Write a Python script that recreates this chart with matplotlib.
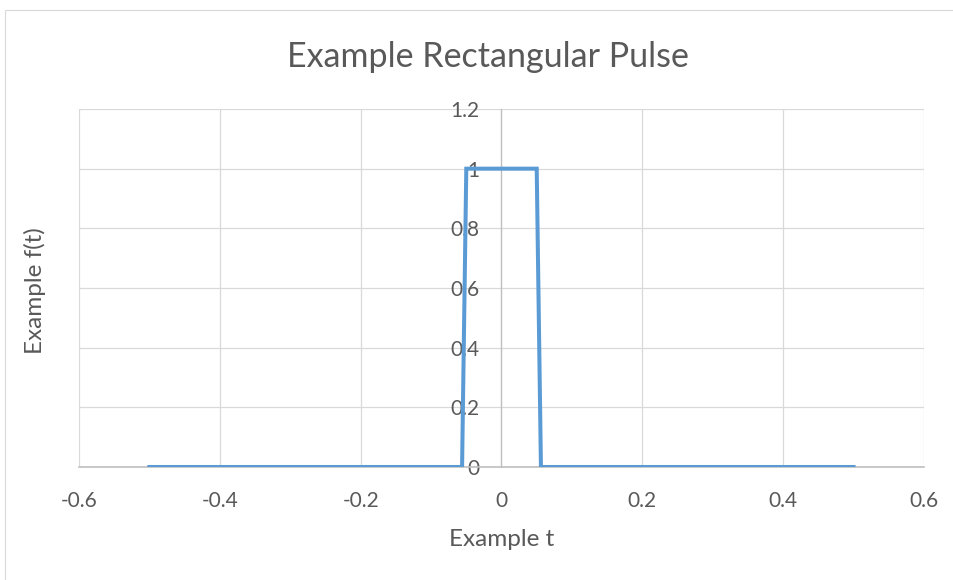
import matplotlib.pyplot as plt
from matplotlib.patches import Rectangle

# pulse samples
t = [-0.5, -0.056, -0.05, 0.05, 0.056, 0.5]
f = [0, 0, 1, 1, 0, 0]

x_ticks = [-0.6, -0.4, -0.2, 0, 0.2, 0.4, 0.6]
y_ticks = [0, 0.2, 0.4, 0.6, 0.8, 1, 1.2]
x_labels = ["-0.6", "-0.4", "-0.2", "0", "0.2", "0.4", "0.6"]
y_labels = ["0", "0.2", "0.4", "0.6", "0.8", "1", "1.2"]

plt.rcParams["font.family"] = ["Lato", "DejaVu Sans"]
text_col = "#595959"

fig = plt.figure(figsize=(9.54, 5.8), dpi=100)
# chart border
fig.patches.append(Rectangle((5 / 954, -0.1), 1.2, 1 - 10 / 580 + 0.1, transform=fig.transFigure,
                             fill=False, edgecolor="#D9D9D9", linewidth=0.8))

ax = fig.add_axes([79 / 954, 1 - 467 / 580, (924 - 79) / 954, (467 - 109) / 580])
ax.plot(t, f, color="#5B9BD5", linewidth=2.9, solid_joinstyle="miter", zorder=3)

ax.set_xlim(-0.6, 0.6)
ax.set_ylim(0, 1.2)
ax.set_xticks(x_ticks, x_labels)
ax.set_yticks(y_ticks, y_labels)
ax.grid(True, color="#D9D9D9", linewidth=0.9)
ax.tick_params(length=0, labelsize=15, colors=text_col)
ax.tick_params(axis="x", pad=17.5)
ax.tick_params(axis="y", pad=16)

ax.spines["left"].set_position(("data", 0))
for s in ["top", "right"]:
    ax.spines[s].set_visible(False)
ax.spines["left"].set_color("#BFBFBF")
ax.spines["bottom"].set_color("#BFBFBF")
ax.spines["left"].set_linewidth(0.9)
ax.spines["bottom"].set_linewidth(1.2)

fig.text(488 / 954, 1 - 57 / 580, "Example Rectangular Pulse", ha="center", va="center",
         fontsize=24.5, color=text_col)
fig.text(502 / 954, 1 - 540 / 580, "Example t", ha="center", va="center",
         fontsize=17.5, color=text_col)
fig.text(35 / 954, 1 - 291 / 580, "Example f(t)", ha="center", va="center", rotation=90,
         fontsize=17.5, color=text_col)

fig.savefig("out.png", dpi=100)
